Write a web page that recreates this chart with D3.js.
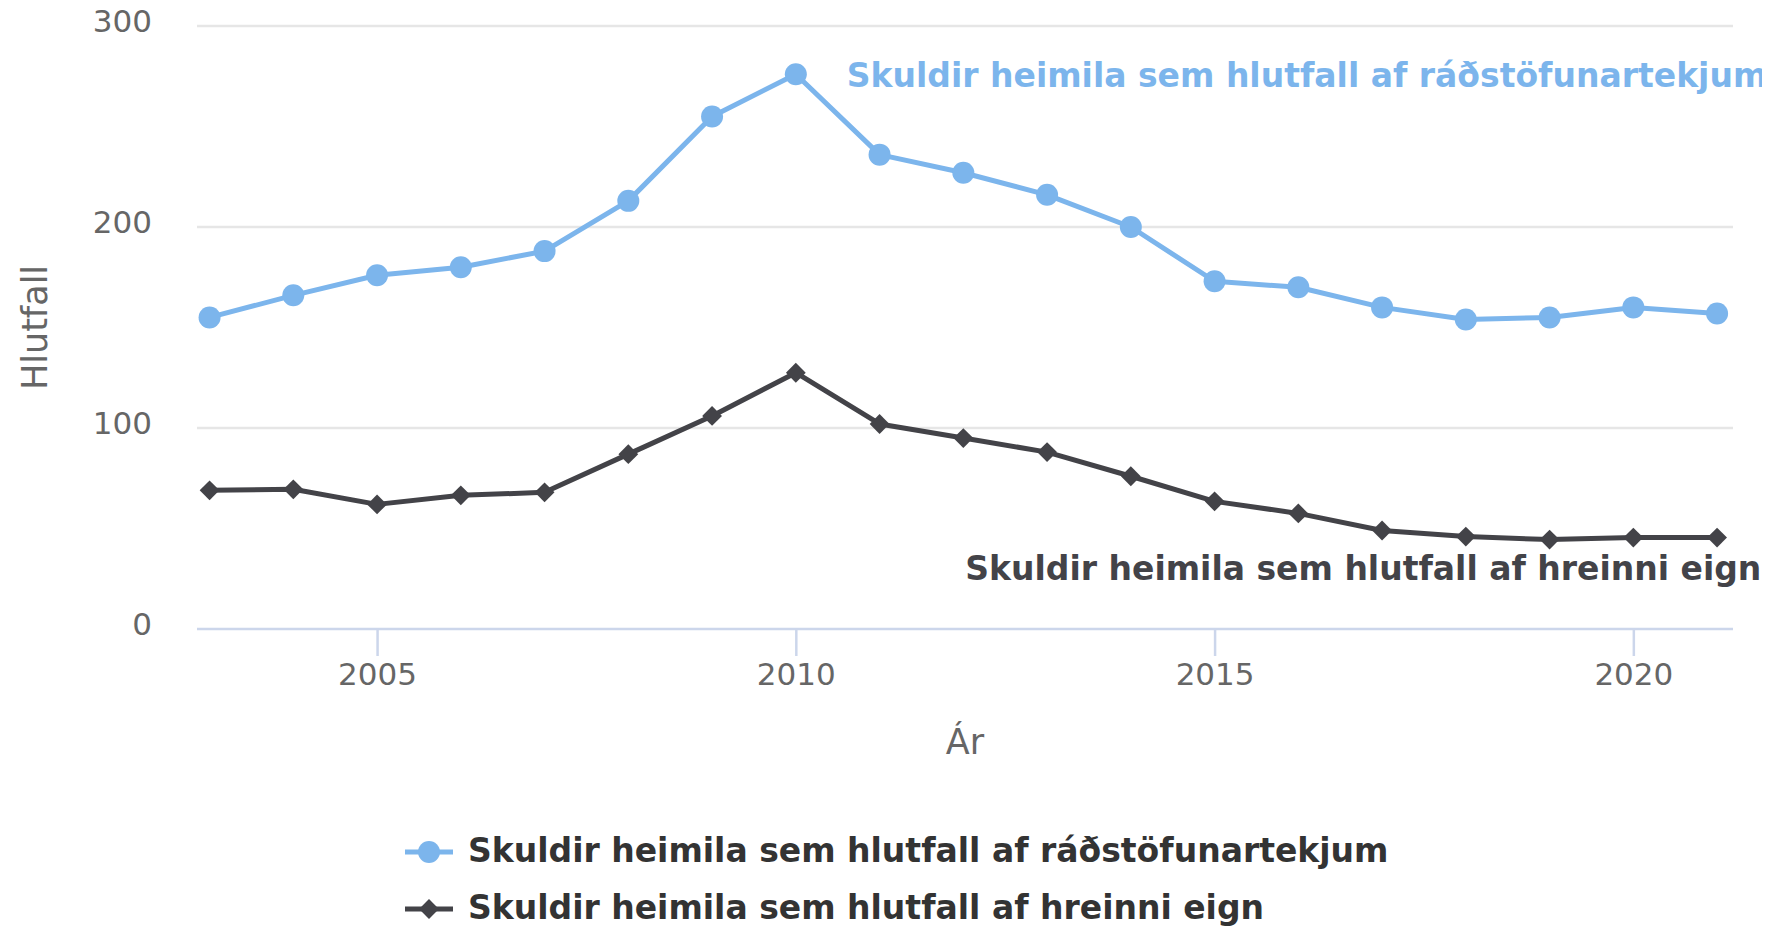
<!DOCTYPE html>
<html>
<head>
<meta charset="utf-8">
<script src="https://cdn.jsdelivr.net/npm/d3@7"></script>
<style>
  body { margin: 0; background: #fff; }
  svg { display: block; font-family: "DejaVu Sans", sans-serif; }
</style>
</head>
<body>
<div id="chart"></div>
<script>
// ár
const years = [2003, 2004, 2005, 2006, 2007, 2008, 2009, 2010, 2011, 2012,
  2013, 2014, 2015, 2016, 2017, 2018, 2019, 2020, 2021];
// skuldir sem hlutfall af ráðstöfunartekjum
const tekjur = [155, 166, 176, 180, 188, 213, 255, 276, 236, 227,
  216, 200, 173, 170, 160, 154, 155, 160, 157];
// skuldir sem hlutfall af hreinni eign
const eign = [69, 69.5, 62, 66.5, 68, 87, 106, 127.5, 102, 95,
  88, 76, 63.5, 57.5, 49, 46, 44.5, 45.5, 45.5];
const yTicks = [0, 100, 200, 300];
const xTicks = [2005, 2010, 2015, 2020];
const seriesNames = [
  'Skuldir heimila sem hlutfall af ráðstöfunartekjum',
  'Skuldir heimila sem hlutfall af hreinni eign'
];
const colors = ['#7cb5ec', '#434348'];

const W = 1762, H = 927;
const m = { left: 197, right: 1733, top: 26, bottom: 629 };

const svg = d3.select('#chart').append('svg')
  .attr('width', W)
  .attr('height', H);

const x = d3.scaleLinear().domain([2002.85, 2021.19]).range([m.left, m.right]);
const y = d3.scaleLinear().domain([0, 300]).range([m.bottom, m.top]);

// gridlines
svg.append('g')
  .selectAll('line')
  .data(yTicks.filter(d => d > 0))
  .join('line')
  .attr('x1', m.left).attr('x2', m.right)
  .attr('y1', d => y(d)).attr('y2', d => y(d))
  .attr('stroke', '#e6e6e6')
  .attr('stroke-width', 2.5);

// y labels
svg.append('g')
  .selectAll('text')
  .data(yTicks)
  .join('text')
  .attr('x', 152)
  .attr('y', d => y(d) - 3)
  .attr('text-anchor', 'end')
  .attr('dominant-baseline', 'middle')
  .attr('fill', '#666666')
  .attr('font-size', 31)
  .text(d => d);

// x axis
const xAxis = svg.append('g')
  .attr('transform', `translate(0,${m.bottom})`)
  .call(d3.axisBottom(x).tickValues(xTicks).tickFormat(d3.format('d'))
    .tickSize(27).tickPadding(7));
xAxis.select('.domain').attr('stroke', '#ccd6eb').attr('stroke-width', 2.5)
  .attr('d', `M${m.left},0H${m.right}`);
xAxis.selectAll('.tick line').attr('stroke', '#ccd6eb').attr('stroke-width', 2.5);
xAxis.selectAll('.tick text')
  .attr('fill', '#666666')
  .attr('font-size', 31)
  .attr('font-family', '"DejaVu Sans", sans-serif');

// axis titles
svg.append('text')
  .attr('transform', `translate(37,${(m.top + m.bottom) / 2}) rotate(-90)`)
  .attr('text-anchor', 'middle')
  .attr('dominant-baseline', 'middle')
  .attr('fill', '#666666')
  .attr('font-size', 35)
  .text('Hlutfall');

svg.append('text')
  .attr('x', (m.left + m.right) / 2)
  .attr('y', 744)
  .attr('text-anchor', 'middle')
  .attr('dominant-baseline', 'middle')
  .attr('fill', '#666666')
  .attr('font-size', 35)
  .text('Ár');

// lines
const line = d3.line().x((d, i) => x(years[i])).y(d => y(d));
[tekjur, eign].forEach((s, k) => {
  svg.append('path')
    .datum(s)
    .attr('fill', 'none')
    .attr('stroke', colors[k])
    .attr('stroke-width', 5)
    .attr('stroke-linejoin', 'round')
    .attr('d', line);
});

svg.append('g')
  .selectAll('circle')
  .data(tekjur)
  .join('circle')
  .attr('cx', (d, i) => x(years[i]))
  .attr('cy', d => y(d))
  .attr('r', 11)
  .attr('fill', colors[0]);

const diamond = d3.symbol().type(d3.symbolDiamond2).size(250);
svg.append('g')
  .selectAll('path')
  .data(eign)
  .join('path')
  .attr('transform', (d, i) => `translate(${x(years[i])},${y(d)})`)
  .attr('d', diamond)
  .attr('fill', colors[1]);

// series labels
svg.append('text')
  .attr('x', x(2010) + 51)
  .attr('y', y(tekjur[7]) + 3)
  .attr('dominant-baseline', 'middle')
  .attr('font-size', 33)
  .attr('font-weight', 'bold')
  .attr('fill', colors[0])
  .text(seriesNames[0]);

svg.append('text')
  .attr('x', x(2012) + 2)
  .attr('y', y(29))
  .attr('dominant-baseline', 'middle')
  .attr('font-size', 33)
  .attr('font-weight', 'bold')
  .attr('fill', colors[1])
  .text(seriesNames[1]);

// legend
const legend = svg.append('g');
const rows = legend.selectAll('g')
  .data(seriesNames)
  .join('g')
  .attr('transform', (d, i) => `translate(405,${852 + i * 57})`);
rows.append('line')
  .attr('x1', 0).attr('x2', 48)
  .attr('stroke', (d, i) => colors[i])
  .attr('stroke-width', 5);
rows.filter((d, i) => i === 0).append('circle')
  .attr('cx', 24).attr('r', 11).attr('fill', colors[0]);
rows.filter((d, i) => i === 1).append('path')
  .attr('transform', 'translate(24,0)')
  .attr('d', diamond).attr('fill', colors[1]);
rows.append('text')
  .attr('x', 63)
  .attr('dominant-baseline', 'middle')
  .attr('font-size', 33)
  .attr('font-weight', 'bold')
  .attr('fill', '#333333')
  .text(d => d);
</script>
</body>
</html>
